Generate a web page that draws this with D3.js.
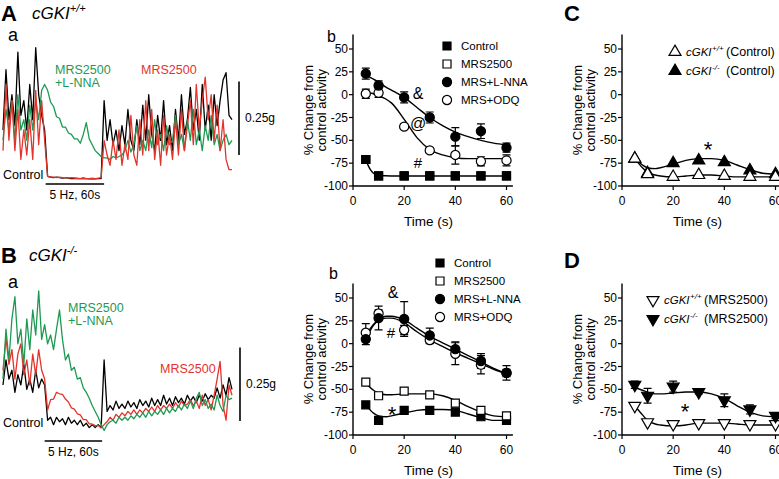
<!doctype html>
<html lang="en">
<head>
<meta charset="utf-8">
<title>cGKI colon motility</title>
<style>
  body { margin: 0; background: #fff; }
  svg text { font-family: "Liberation Sans", Arial, sans-serif; fill: #000; }
</style>
</head>
<body>
<svg id="fig" width="779" height="479"></svg>
<script src="https://d3js.org/d3.v7.min.js"></script>
<script>
// ---- trace data (mg, one sample every 3 s) ----
var traceStep = 3;
var aControl = [170,375,205,290,185,435,220,270,170,325,205,450,290,220,170,
  12,10,8,10,8,6,8,6,5,6,5,5,6,5,4,5,4,5,5, 270,
  135,205,120,170,100,185,120,240,135,100,205,120,255,135,290,155,100,220,135,270,120,185,100,240,135,290,155,205,315,170,240,135,325,170,255,135,290,185,270,340,365,220,205];
var aMRS = [100,325,135,270,100,240,70,170,85,205,70,305,120,270,135,
  12,10,10,8,10,8,8,6,8,6,6,5,6,5,5,6,5,6,8, 135,
  85,50,135,70,170,50,120,70,220,85,50,205,85,270,100,240,70,170,50,220,85,155,70,205,85,240,100,185,270,120,325,170,270,350,205,290,135,255,100,205,70,35,35];
var aLNNA = [135,240,170,270,135,290,170,205,135,255,170,270,205,305,325,
  305,265,250,215,210,180,180,160,155,140,140,125,155,195,140,120,100,90,80, 75,
  75,70,80,75,80,85,100,135,95,120,185,100,135,100,170,110,205,120,155,100,185,120,135,220,120,155,100,205,135,240,120,170,100,185,135,220,120,155,100,135,155,120,135];
var bControl = [160,245,180,210,135,195,160,230,145,180,135,210,150,180,160,
  40,50,25,50,35,45,25,50,30,40,25,40,20,30,15,25,15,25,15, 245,
  70,90,75,105,80,95,80,105,85,100,80,110,90,105,85,115,90,110,90,125,95,115,90,120,100,115,95,125,105,120,100,125,105,130,110,125,115,150,115,160,125,185,145];
var bMRS = [210,320,230,280,180,265,300,195,245,160,265,195,280,210,180,
  75,110,112,135,130,128,112,102,82,78,62,58,42,42,28,27,22,22,14, 25,
  35,50,40,60,50,65,55,70,60,75,60,75,65,80,70,85,70,90,75,90,80,95,80,100,85,105,90,95,110,90,105,80,125,90,110,75,125,180,240,90,40,160,125];
var bLNNA = [180,350,245,385,460,300,350,230,385,280,415,330,480,315,365,
  300,330,280,350,415,315,245,265,210,220,180,185,150,135,115,90,70,50,25, 5,
  25,35,40,30,50,40,50,40,55,45,60,50,65,50,70,55,70,60,75,60,80,65,80,70,90,75,95,80,105,80,115,135,90,110,80,95,75,125,90,70,125,110,115];

// ---- summary data (% change from control activity) ----
var times = [5, 10, 20, 30, 40, 50, 60];
var yTicks = [50, 25, 0, -25, -50, -75, -100];
var xTicks = [0, 20, 40, 60];

var abControl = [-71, -89, -89, -89, -89, -89, -89];
var abMRS = [-71, -89, -89, -89, -89, -89, -89];
var abLNNA = [23, 10, -3, -25, -46, -40, -58];
var abLNNAerr = [6, 5, 6, 6, 10, 8, 5];
var abODQ = [1, 2, -35, -61, -66, -73, -72];
var abODQerr = [5, 5, 3, 3, 10, 5, 6];

var bbControl = [-67, -84, -73, -73, -75, -80, -84];
var bbMRS = [-42, -57, -52, -56, -65, -73, -79];
var bbMRSerr = [2, 3, 3, 2, 3, 3, 2];
var bbLNNA = [5, 28, 27, 9, -6, -19, -32];
var bbLNNAerr = [6, 13, 19, 8, 8, 8, 8];
var bbODQ = [12, 33, 15, 4, -11, -23, -32];
var bbODQerr = [10, 4, 5, 4, 12, 10, 4];

var cWT = [-70, -87, -90, -88, -89, -90, -90];
var cKO = [-70, -86, -75, -72, -74, -83, -87];

var dWT = [-68, -86, -88, -87, -87, -88, -88];
var dKO = [-45, -57, -47, -53, -62, -72, -79];
var dKOerr = [4, 8, 6, 2, 7, 5, 3];

// fitted curves
var abControlFitT = [5, 6, 7, 8, 10, 15, 60];
var abControlFit = [-71, -78, -83, -86, -88.5, -89, -89];
var fitT = [5, 8, 10, 13, 15, 20, 25, 30, 35, 40, 45, 50, 55, 60];
var abLNNAFit = [21, 17, 14, 8, 5, -3, -14, -25, -34, -41, -46, -50, -53, -55];
var abODQFit = [3, 1, -1, -5, -9, -27, -47, -60, -66, -69, -70, -70, -70, -70];
var bbControlFit = [-67, -76, -79, -80, -79, -76, -73, -72, -72, -73, -77, -81, -84, -84];
var bbMRSFit = [-43, -51, -54, -56, -56, -55, -55, -55, -57, -62, -69, -75, -79, -80];
var bbLNNAFit = [5, 20, 26, 30, 30, 26, 17, 8, 1, -6, -13, -20, -27, -33];
var bbODQFit = [9, 21, 26, 28, 28, 23, 13, 4, -3, -10, -16, -22, -28, -33];
var cWTFit = [-70, -80, -85, -88, -89, -90, -89, -88, -88, -89, -90, -90, -90, -90];
var cKOFit = [-70, -77, -80, -81, -80, -76, -72, -70, -70, -72, -77, -82, -86, -87];
var dWTFit = [-68, -78, -84, -88, -89, -90, -89, -87, -87, -87, -88, -89, -89, -89];
var dKOFit = [-48, -51, -53, -55, -55, -54, -53, -53, -55, -60, -68, -75, -79, -80];

var green = "#1d9a52", red = "#e3342b";
var svg = d3.select("#fig");

// ---------- raw traces ----------
function traces(base, list) {
  var x = d3.scaleLinear().domain([0, 231]).range([3, 232]);
  var y = d3.scaleLinear().domain([0, 250]).range([base, base - 73.5]);
  var line = d3.line().x(function (d, i) { return x(i * traceStep); }).y(function (d) { return y(d); });
  list.forEach(function (t) {
    svg.append("path").datum(t[0]).attr("d", line)
      .attr("fill", "none").attr("stroke", t[1]).attr("stroke-width", 1.3)
      .attr("stroke-linejoin", "round");
  });
  return { x: x, y: y };
}

var tA = traces(180, [[aControl, "#000"], [aLNNA, green], [aMRS, red]]);
var tB = traces(432, [[bControl, "#000"], [bMRS, red], [bLNNA, green]]);

function traceDeco(s, barX, barLo, stim, stimY, ctlY) {
  svg.append("line").attr("x1", barX).attr("x2", barX)
    .attr("y1", s.y(barLo)).attr("y2", s.y(barLo + 250))
    .attr("stroke", "#000").attr("stroke-width", 1.6);
  svg.append("text").attr("x", barX + 6).attr("y", (s.y(barLo) + s.y(barLo + 250)) / 2 + 4)
    .attr("font-size", 12).text("0.25g");
  svg.append("line").attr("x1", s.x(stim[0])).attr("x2", s.x(stim[1]))
    .attr("y1", stimY).attr("y2", stimY).attr("stroke", "#000").attr("stroke-width", 1.6);
  svg.append("text").attr("x", (s.x(stim[0]) + s.x(stim[1])) / 2).attr("y", stimY + 15)
    .attr("text-anchor", "middle").attr("font-size", 12).text("5 Hz, 60s");
  svg.append("text").attr("x", 3).attr("y", ctlY).attr("font-size", 12.5).text("Control");
}
traceDeco(tA, 239, 85, [43, 102], 184, 179);
traceDeco(tB, 240, 37, [42, 100], 441, 427);

function label(x, y, lines, color) {
  lines.forEach(function (l, i) {
    svg.append("text").attr("x", x).attr("y", y + i * 13).attr("font-size", 12.5)
      .style("fill", color).text(l);
  });
}
label(55, 74, ["MRS2500", "+L-NNA"], green);
label(141, 74, ["MRS2500"], red);
label(68, 312, ["MRS2500", "+L-NNA"], green);
label(160, 373, ["MRS2500"], red);

// ---------- panel letters ----------
function genotype(x, y, sup) {
  var t = svg.append("text").attr("x", x).attr("y", y).attr("font-size", 17);
  t.append("tspan").attr("font-style", "italic").text("cGKI");
  t.append("tspan").attr("font-size", 11).attr("dy", -7).attr("font-style", "italic").text(sup);
}
svg.append("text").attr("x", 1).attr("y", 21).attr("font-size", 22).attr("font-weight", "bold").text("A");
genotype(32, 19, "+/+");
svg.append("text").attr("x", 8).attr("y", 41).attr("font-size", 18).text("a");
svg.append("text").attr("x", 327).attr("y", 42).attr("font-size", 16).text("b");
svg.append("text").attr("x", 1).attr("y", 263).attr("font-size", 22).attr("font-weight", "bold").text("B");
genotype(29, 261, "-/-");
svg.append("text").attr("x", 8).attr("y", 288).attr("font-size", 18).text("a");
svg.append("text").attr("x", 329).attr("y", 279).attr("font-size", 16).text("b");
svg.append("text").attr("x", 564).attr("y", 21).attr("font-size", 22).attr("font-weight", "bold").text("C");
svg.append("text").attr("x", 564).attr("y", 268).attr("font-size", 22).attr("font-weight", "bold").text("D");

// ---------- summary panels ----------
var sym = {
  square: d3.symbolSquare, circle: d3.symbolCircle,
  up: d3.symbolTriangle, down: d3.symbolTriangle
};
var symSize = { square: 64, circle: 66, up: 62, down: 62 };

function panel(x0, yBase) {
  var x = d3.scaleLinear().domain([0, 60]).range([x0, x0 + 153.5]);
  var y = d3.scaleLinear().domain([-100, 50]).range([yBase, yBase - 137]);
  var g = svg.append("g");
  g.append("line").attr("x1", x(0)).attr("x2", x(0)).attr("y1", y(-100)).attr("y2", y(66))
    .attr("stroke", "#000").attr("stroke-width", 1.4);
  g.append("line").attr("x1", x(0)).attr("x2", x(62.5)).attr("y1", y(-100)).attr("y2", y(-100))
    .attr("stroke", "#000").attr("stroke-width", 1.4);
  yTicks.forEach(function (v) {
    g.append("line").attr("x1", x(0) - 4).attr("x2", x(0)).attr("y1", y(v)).attr("y2", y(v))
      .attr("stroke", "#000").attr("stroke-width", 1.2);
    g.append("text").attr("x", x(0) - 5).attr("y", y(v) + 4).attr("text-anchor", "end")
      .attr("font-size", 12).text(v);
  });
  xTicks.forEach(function (v) {
    g.append("line").attr("x1", x(v)).attr("x2", x(v)).attr("y1", y(-100)).attr("y2", y(-100) + 4)
      .attr("stroke", "#000").attr("stroke-width", 1.2);
    g.append("text").attr("x", x(v)).attr("y", y(-100) + 19).attr("text-anchor", "middle")
      .attr("font-size", 12).text(v);
  });
  g.append("text").attr("x", x(29.5)).attr("y", y(-100) + 40).attr("text-anchor", "middle")
    .attr("font-size", 13.5).text("Time (s)");
  var cy = (y(-100) + y(66)) / 2;
  [["% Change from", -40], ["control activity", -27]].forEach(function (l) {
    g.append("text").attr("transform", "translate(" + (x(0) + l[1]) + "," + cy + ") rotate(-90)")
      .attr("text-anchor", "middle").attr("font-size", 13).text(l[0]);
  });
  return { g: g, x: x, y: y };
}

function fit(p, tt, vals) {
  p.g.append("path").datum(vals)
    .attr("d", d3.line().curve(d3.curveMonotoneX)
      .x(function (d, i) { return p.x(tt[i]); }).y(function (d) { return p.y(d); }))
    .attr("fill", "none").attr("stroke", "#000").attr("stroke-width", 1.4);
}

function errs(p, vals, err) {
  vals.forEach(function (v, i) {
    var cx = p.x(times[i]);
    p.g.append("path")
      .attr("d", "M" + (cx - 4) + "," + p.y(v + err[i]) + "H" + (cx + 4) +
        "M" + cx + "," + p.y(v + err[i]) + "V" + p.y(v - err[i]) +
        "M" + (cx - 4) + "," + p.y(v - err[i]) + "H" + (cx + 4))
      .attr("stroke", "#000").attr("stroke-width", 1.2).attr("fill", "none");
  });
}

function marker(g, cx, cy, type, filled) {
  g.append("path")
    .attr("transform", "translate(" + cx + "," + cy + ")" + (type === "down" ? " rotate(180)" : ""))
    .attr("d", d3.symbol().type(sym[type]).size(symSize[type]))
    .attr("fill", filled ? "#000" : "#fff").attr("stroke", "#000").attr("stroke-width", 1.2);
}

function marks(p, vals, type, filled) {
  vals.forEach(function (v, i) { marker(p.g, p.x(times[i]), p.y(v), type, filled); });
}

function note(p, tx, ty, s, size) {
  p.g.append("text").attr("x", tx).attr("y", ty).attr("text-anchor", "middle")
    .attr("font-size", size).text(s);
}

function legend(g, x, ys, items) {
  items.forEach(function (it, i) {
    marker(g, x, ys[i], it[0], it[1]);
    g.append("text").attr("x", x + 14).attr("y", ys[i] + 4).attr("font-size", 11.5).text(it[2]);
  });
}

function legendGeno(g, x, ys, items) {
  items.forEach(function (it, i) {
    marker(g, x, ys[i], it[0], it[1]);
    g.append("text").attr("x", x + 11).attr("y", ys[i] + 4).attr("font-size", 11.5)
      .attr("font-style", "italic").text("cGKI");
    g.append("text").attr("x", x + 37).attr("y", ys[i] - 1).attr("font-size", 8)
      .attr("font-style", "italic").text(it[2]);
    g.append("text").attr("x", x + 51).attr("y", ys[i] + 4).attr("font-size", 12.5).text(it[3]);
  });
}

// Ab
var pAb = panel(353, 186);
fit(pAb, abControlFitT, abControlFit);
fit(pAb, fitT, abLNNAFit);
fit(pAb, fitT, abODQFit);
errs(pAb, abLNNA, abLNNAerr);
errs(pAb, abODQ, abODQerr);
marks(pAb, abMRS, "square", false);
marks(pAb, abControl, "square", true);
marks(pAb, abODQ, "circle", false);
marks(pAb, abLNNA, "circle", true);
note(pAb, 418, 99, "&", 16);
note(pAb, 418, 129, "@", 16);
note(pAb, 418, 168, "#", 15);
legend(pAb.g, 447, [46, 64, 82, 100],
  [["square", true, "Control"], ["square", false, "MRS2500"], ["circle", true, "MRS+L-NNA"], ["circle", false, "MRS+ODQ"]]);

// Bb
var pBb = panel(353, 435);
fit(pBb, fitT, bbControlFit);
fit(pBb, fitT, bbMRSFit);
fit(pBb, fitT, bbLNNAFit);
fit(pBb, fitT, bbODQFit);
errs(pBb, bbMRS, bbMRSerr);
errs(pBb, bbLNNA, bbLNNAerr);
errs(pBb, bbODQ, bbODQerr);
marks(pBb, bbControl, "square", true);
marks(pBb, bbMRS, "square", false);
marks(pBb, bbODQ, "circle", false);
marks(pBb, bbLNNA, "circle", true);
note(pBb, 393, 298, "&", 16);
note(pBb, 391, 338, "#", 15);
note(pBb, 392, 422, "*", 22);
legend(pBb.g, 440, [263, 281, 299, 317],
  [["square", true, "Control"], ["square", false, "MRS2500"], ["circle", true, "MRS+L-NNA"], ["circle", false, "MRS+ODQ"]]);

// C
var pC = panel(622, 186);
fit(pC, fitT, cWTFit);
fit(pC, fitT, cKOFit);
marks(pC, cKO, "up", true);
marks(pC, cWT, "up", false);
note(pC, 708, 157, "*", 22);
legendGeno(pC.g, 675, [52, 71], [["up", false, "+/+", "(Control)"], ["up", true, "-/-", "(Control)"]]);

// D
var pD = panel(622, 435);
fit(pD, fitT, dWTFit);
fit(pD, fitT, dKOFit);
errs(pD, dKO, dKOerr);
marks(pD, dWT, "down", false);
marks(pD, dKO, "down", true);
note(pD, 685, 419, "*", 22);
legendGeno(pD.g, 653, [300, 319], [["down", false, "+/+", "(MRS2500)"], ["down", true, "-/-", "(MRS2500)"]]);
</script>
</body>
</html>
